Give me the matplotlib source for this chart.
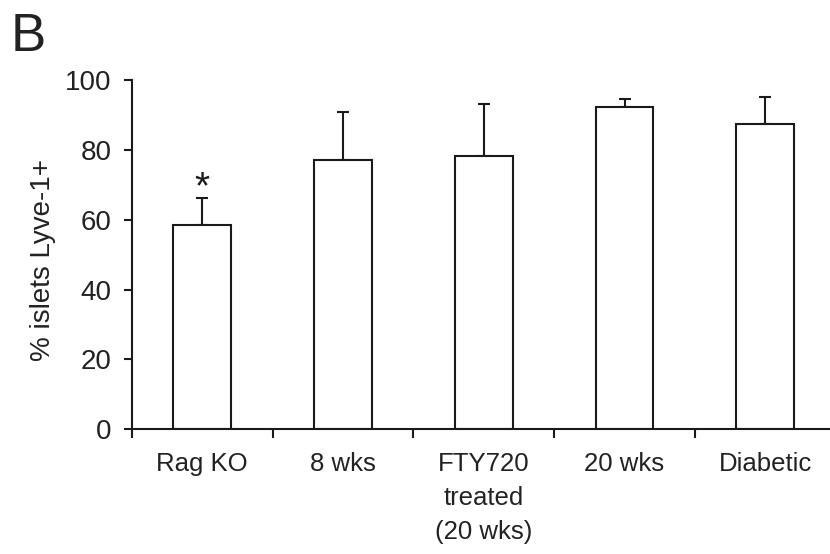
import matplotlib
matplotlib.use("Agg")
import matplotlib.pyplot as plt
import numpy as np

categories = ["Rag KO", "8 wks", "FTY720\ntreated\n(20 wks)", "20 wks", "Diabetic"]
values = [58.5, 77.2, 78.3, 92.4, 87.4]
err_upper = [7.7, 13.5, 14.9, 2.2, 7.7]
yticks = [0, 20, 40, 60, 80, 100]

plt.rcParams['font.family'] = ['Liberation Sans', 'DejaVu Sans']

fig = plt.figure(figsize=(8.3, 5.54), dpi=100)
ax = fig.add_axes([131.7 / 830, 124.7 / 554, 704 / 830, 349.3 / 554])

x = np.arange(len(categories))
ax.bar(x, values, width=0.41, color='white', edgecolor='#1a1a1a', linewidth=1.5, zorder=2)
ax.errorbar(x, values, yerr=[np.zeros(len(values)), err_upper], fmt='none',
            ecolor='#1a1a1a', elinewidth=1.5, capsize=4, capthick=1.5, zorder=1)

ax.text(0, 69.0, "*", ha='center', va='center', fontsize=28, color='#1a1a1a')

ax.set_xlim(-0.5, 4.5)
ax.set_ylim(0, 100)
ax.set_yticks(yticks)
ax.set_yticklabels([str(v) for v in yticks], fontsize=20, color='#222222')
ax.set_xticks(np.arange(-0.5, 4.6, 1.0))
ax.set_xticklabels([])
ax.set_xticks(x, minor=True)
ax.set_xticklabels(categories, minor=True, fontsize=18.5, color='#222222',
                   linespacing=1.55, va='top')
ax.tick_params(axis='x', which='minor', length=0, pad=16)
ax.tick_params(axis='x', which='major', direction='out', length=6.5, width=1.5, color='#1a1a1a')
ax.tick_params(axis='y', direction='out', length=5.5, width=1.5, color='#1a1a1a', pad=9)

for s in ['top', 'right']:
    ax.spines[s].set_visible(False)
for s in ['left', 'bottom']:
    ax.spines[s].set_linewidth(1.5)
    ax.spines[s].set_color('#1a1a1a')

fig.text(43 / 830, 1 - 260 / 554, "% islets Lyve-1+", rotation=90, ha='center', va='center',
         fontsize=20, color='#222222')
fig.text(28 / 830, 1 - 37 / 554, "B", ha='center', va='center', fontsize=38, color='#222222')

fig.savefig("out.png", dpi=100)
